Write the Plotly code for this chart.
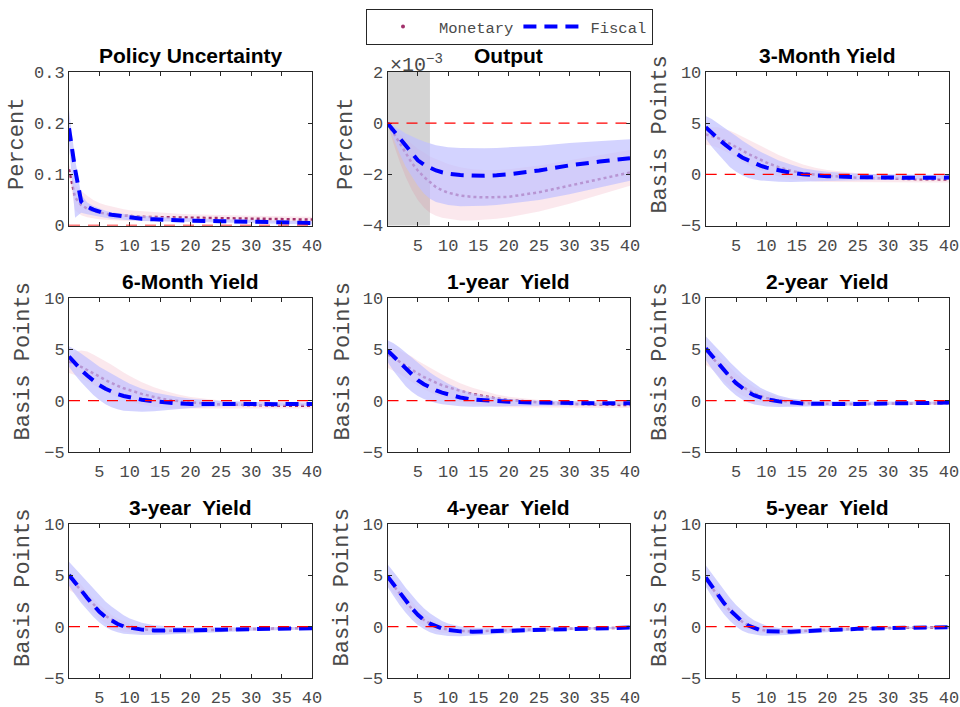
import plotly.graph_objects as go

# ---------------- data ----------------
horizons = [0, 1, 2, 3, 4, 5, 6, 7, 8, 9, 10, 12, 14, 16, 18, 20, 25, 30, 35, 40]

# Policy Uncertainty (percent)
pu_mon    = [0.11, 0.055, 0.04, 0.033, 0.028, 0.025, 0.023, 0.021, 0.02, 0.019, 0.018, 0.017, 0.0165, 0.016, 0.0157, 0.0153, 0.0145, 0.0135, 0.0125, 0.0115]
pu_mon_lo = [0.10, 0.03, 0.02, 0.016, 0.014, 0.012, 0.011, 0.01, 0.01, 0.0095, 0.009, 0.0085, 0.008, 0.008, 0.0075, 0.0075, 0.007, 0.0065, 0.006, 0.0055]
pu_mon_hi = [0.12, 0.08, 0.068, 0.058, 0.05, 0.044, 0.04, 0.037, 0.034, 0.032, 0.03, 0.028, 0.026, 0.024, 0.023, 0.022, 0.02, 0.019, 0.018, 0.017]
pu_fis    = [0.19, 0.11, 0.047, 0.037, 0.031, 0.026, 0.023, 0.021, 0.019, 0.017, 0.015, 0.013, 0.012, 0.011, 0.010, 0.0095, 0.0085, 0.007, 0.006, 0.005]
pu_fis_lo = [0.16, 0.015, 0.025, 0.022, 0.019, 0.017, 0.015, 0.013, 0.012, 0.011, 0.0105, 0.009, 0.008, 0.007, 0.0065, 0.006, 0.005, 0.004, 0.003, 0.002]
pu_fis_hi = [0.225, 0.13, 0.06, 0.045, 0.038, 0.033, 0.029, 0.026, 0.024, 0.022, 0.021, 0.019, 0.017, 0.016, 0.015, 0.014, 0.012, 0.011, 0.0095, 0.0085]

# Output (units of 1e-3 percent)
out_mon    = [0, -0.4, -0.8, -1.2, -1.55, -1.85, -2.1, -2.3, -2.5, -2.62, -2.72, -2.83, -2.88, -2.9, -2.9, -2.88, -2.7, -2.45, -2.2, -1.93]
out_mon_lo = [0, -0.8, -1.5, -2.1, -2.6, -3.0, -3.3, -3.5, -3.62, -3.7, -3.75, -3.8, -3.8, -3.78, -3.74, -3.68, -3.45, -3.15, -2.8, -2.45]
out_mon_hi = [0, -0.2, -0.4, -0.6, -0.8, -1.0, -1.15, -1.3, -1.4, -1.5, -1.6, -1.72, -1.8, -1.83, -1.83, -1.8, -1.65, -1.45, -1.25, -1.05]
out_fis    = [0, -0.3, -0.6, -0.9, -1.2, -1.45, -1.62, -1.75, -1.85, -1.92, -1.97, -2.03, -2.06, -2.06, -2.04, -2.0, -1.85, -1.65, -1.5, -1.37]
out_fis_lo = [0, -0.6, -1.2, -1.7, -2.1, -2.45, -2.75, -2.95, -3.08, -3.15, -3.2, -3.25, -3.25, -3.23, -3.2, -3.15, -3.0, -2.78, -2.52, -2.25]
out_fis_hi = [0, -0.12, -0.25, -0.4, -0.52, -0.62, -0.72, -0.8, -0.86, -0.9, -0.94, -0.97, -0.98, -0.98, -0.97, -0.95, -0.88, -0.78, -0.7, -0.63]
out_shade = [0, 7]

# 3-Month Yield (basis points)
m3_mon    = [3.9, 3.75, 3.55, 3.3, 3.0, 2.7, 2.35, 2.0, 1.7, 1.4, 1.15, 0.7, 0.35, 0.1, -0.05, -0.15, -0.33, -0.42, -0.48, -0.5]
m3_mon_lo = [2.9, 2.8, 2.6, 2.3, 2.0, 1.6, 1.2, 0.9, 0.6, 0.35, 0.15, -0.2, -0.45, -0.6, -0.7, -0.75, -0.8, -0.8, -0.8, -0.8]
m3_mon_hi = [4.3, 4.6, 4.6, 4.45, 4.25, 4.0, 3.7, 3.4, 3.1, 2.8, 2.5, 1.9, 1.4, 0.95, 0.65, 0.42, 0.1, -0.05, -0.1, -0.12]
m3_fis    = [4.6, 4.0, 3.5, 3.0, 2.5, 2.05, 1.65, 1.35, 1.1, 0.85, 0.65, 0.35, 0.15, 0.0, -0.1, -0.18, -0.28, -0.33, -0.34, -0.32]
m3_fis_lo = [3.5, 2.7, 2.0, 1.3, 0.7, 0.25, -0.1, -0.35, -0.5, -0.6, -0.68, -0.73, -0.74, -0.73, -0.7, -0.65, -0.57, -0.52, -0.5, -0.5]
m3_fis_hi = [5.7, 5.4, 5.0, 4.6, 4.2, 3.75, 3.3, 2.9, 2.55, 2.2, 1.9, 1.35, 0.95, 0.6, 0.4, 0.25, 0.05, -0.03, -0.05, -0.07]

# 6-Month Yield
m6_mon    = [3.8, 3.6, 3.3, 3.0, 2.7, 2.35, 2.0, 1.7, 1.45, 1.2, 1.0, 0.65, 0.35, 0.1, -0.05, -0.18, -0.38, -0.47, -0.5, -0.5]
m6_mon_lo = [2.7, 2.5, 2.2, 1.9, 1.55, 1.2, 0.85, 0.55, 0.3, 0.1, -0.1, -0.4, -0.6, -0.72, -0.78, -0.8, -0.8, -0.78, -0.78, -0.78]
m6_mon_hi = [4.1, 4.8, 4.9, 4.8, 4.5, 4.2, 3.85, 3.5, 3.1, 2.75, 2.4, 1.8, 1.3, 0.9, 0.6, 0.35, 0.0, -0.15, -0.2, -0.22]
m6_fis    = [4.3, 3.6, 3.0, 2.45, 1.95, 1.5, 1.15, 0.85, 0.62, 0.45, 0.3, 0.08, -0.08, -0.2, -0.28, -0.33, -0.36, -0.37, -0.35, -0.33]
m6_fis_lo = [3.3, 2.5, 1.8, 1.15, 0.55, 0.05, -0.35, -0.65, -0.85, -1.0, -1.08, -1.1, -1.05, -0.95, -0.85, -0.72, -0.55, -0.5, -0.5, -0.5]
m6_fis_hi = [5.3, 5.0, 4.6, 4.2, 3.75, 3.3, 2.95, 2.6, 2.25, 1.95, 1.65, 1.15, 0.8, 0.55, 0.35, 0.18, -0.05, -0.15, -0.18, -0.2]

# 1-year Yield
y1_mon    = [4.5, 4.2, 3.8, 3.4, 3.0, 2.65, 2.3, 2.0, 1.75, 1.5, 1.3, 0.95, 0.65, 0.4, 0.2, 0.05, -0.18, -0.33, -0.4, -0.44]
y1_mon_lo = [3.2, 2.9, 2.6, 2.2, 1.8, 1.45, 1.1, 0.8, 0.55, 0.35, 0.15, -0.15, -0.35, -0.5, -0.6, -0.65, -0.7, -0.72, -0.72, -0.72]
y1_mon_hi = [4.8, 5.1, 4.9, 4.6, 4.3, 3.9, 3.55, 3.2, 2.85, 2.55, 2.25, 1.7, 1.25, 0.9, 0.6, 0.38, 0.05, -0.1, -0.15, -0.17]
y1_fis    = [4.9, 4.3, 3.7, 3.1, 2.55, 2.0, 1.6, 1.25, 1.0, 0.78, 0.6, 0.3, 0.1, 0.0, -0.07, -0.12, -0.2, -0.26, -0.27, -0.27]
y1_fis_lo = [3.8, 2.9, 2.1, 1.4, 0.85, 0.45, 0.15, -0.08, -0.25, -0.35, -0.45, -0.55, -0.6, -0.6, -0.57, -0.53, -0.48, -0.47, -0.47, -0.47]
y1_fis_hi = [5.9, 5.6, 5.2, 4.7, 4.2, 3.7, 3.2, 2.75, 2.35, 2.0, 1.65, 1.1, 0.72, 0.48, 0.3, 0.15, -0.02, -0.08, -0.1, -0.1]

# 2-year Yield
y2_mon    = [4.9, 4.3, 3.6, 2.95, 2.35, 1.8, 1.35, 1.0, 0.7, 0.45, 0.25, 0.0, -0.15, -0.25, -0.3, -0.33, -0.34, -0.3, -0.27, -0.25]
y2_mon_lo = [3.5, 3.1, 2.5, 1.9, 1.35, 0.9, 0.5, 0.2, -0.05, -0.2, -0.32, -0.48, -0.55, -0.55, -0.53, -0.5, -0.47, -0.43, -0.4, -0.37]
y2_mon_hi = [5.4, 5.0, 4.4, 3.8, 3.2, 2.65, 2.15, 1.7, 1.3, 1.0, 0.75, 0.35, 0.1, -0.05, -0.12, -0.15, -0.18, -0.17, -0.15, -0.13]
y2_fis    = [5.1, 4.4, 3.6, 2.9, 2.3, 1.7, 1.2, 0.8, 0.5, 0.28, 0.12, -0.08, -0.2, -0.28, -0.32, -0.34, -0.33, -0.28, -0.23, -0.2]
y2_fis_lo = [4.0, 3.1, 2.3, 1.6, 1.0, 0.5, 0.1, -0.18, -0.38, -0.5, -0.57, -0.62, -0.62, -0.6, -0.56, -0.52, -0.45, -0.4, -0.37, -0.35]
y2_fis_hi = [6.3, 5.7, 5.0, 4.4, 3.75, 3.15, 2.6, 2.1, 1.65, 1.25, 0.95, 0.5, 0.2, 0.05, -0.02, -0.05, -0.08, -0.08, -0.08, -0.08]

# 3-year Yield
y3_mon    = [4.85, 4.2, 3.5, 2.8, 2.15, 1.55, 1.05, 0.65, 0.32, 0.08, -0.08, -0.28, -0.37, -0.4, -0.4, -0.37, -0.3, -0.23, -0.18, -0.15]
y3_mon_lo = [3.6, 3.2, 2.6, 1.95, 1.3, 0.75, 0.3, -0.05, -0.3, -0.5, -0.62, -0.72, -0.73, -0.7, -0.66, -0.6, -0.48, -0.38, -0.3, -0.26]
y3_mon_hi = [5.3, 4.8, 4.1, 3.4, 2.75, 2.15, 1.6, 1.15, 0.8, 0.5, 0.28, 0.0, -0.12, -0.18, -0.2, -0.2, -0.15, -0.1, -0.08, -0.07]
y3_fis    = [5.05, 4.35, 3.55, 2.8, 2.1, 1.45, 0.95, 0.55, 0.25, 0.02, -0.12, -0.3, -0.38, -0.4, -0.39, -0.36, -0.3, -0.23, -0.18, -0.16]
y3_fis_lo = [4.0, 3.1, 2.3, 1.6, 0.95, 0.4, -0.05, -0.35, -0.55, -0.7, -0.78, -0.83, -0.83, -0.8, -0.74, -0.68, -0.55, -0.42, -0.33, -0.28]
y3_fis_hi = [6.35, 5.7, 5.0, 4.3, 3.65, 3.05, 2.45, 1.95, 1.5, 1.1, 0.8, 0.38, 0.12, 0.0, -0.05, -0.07, -0.08, -0.07, -0.06, -0.05]

# 4-year Yield
y4_mon    = [4.8, 4.0, 3.2, 2.45, 1.75, 1.15, 0.65, 0.3, 0.02, -0.18, -0.3, -0.43, -0.47, -0.45, -0.41, -0.36, -0.27, -0.19, -0.14, -0.1]
y4_mon_lo = [4.0, 3.3, 2.55, 1.8, 1.1, 0.5, 0.05, -0.25, -0.45, -0.6, -0.65, -0.7, -0.68, -0.62, -0.56, -0.5, -0.38, -0.27, -0.2, -0.15]
y4_mon_hi = [5.3, 4.6, 3.85, 3.1, 2.4, 1.8, 1.25, 0.82, 0.48, 0.2, 0.02, -0.2, -0.28, -0.3, -0.28, -0.25, -0.18, -0.12, -0.08, -0.05]
y4_fis    = [4.9, 4.1, 3.3, 2.5, 1.8, 1.15, 0.65, 0.28, 0.0, -0.2, -0.33, -0.47, -0.5, -0.47, -0.42, -0.37, -0.28, -0.2, -0.14, -0.1]
y4_fis_lo = [3.9, 3.0, 2.1, 1.35, 0.7, 0.15, -0.25, -0.55, -0.75, -0.87, -0.93, -0.95, -0.9, -0.82, -0.73, -0.65, -0.48, -0.35, -0.26, -0.2]
y4_fis_hi = [6.1, 5.4, 4.6, 3.8, 3.05, 2.4, 1.8, 1.3, 0.9, 0.55, 0.3, 0.0, -0.12, -0.15, -0.15, -0.13, -0.1, -0.06, -0.04, -0.02]

# 5-year Yield
y5_mon    = [4.6, 3.8, 3.0, 2.25, 1.55, 0.95, 0.48, 0.1, -0.15, -0.32, -0.42, -0.49, -0.48, -0.43, -0.37, -0.31, -0.21, -0.14, -0.09, -0.06]
y5_mon_lo = [4.1, 3.25, 2.45, 1.7, 1.0, 0.4, 0.0, -0.3, -0.5, -0.62, -0.68, -0.7, -0.66, -0.58, -0.5, -0.42, -0.3, -0.2, -0.14, -0.1]
y5_mon_hi = [5.1, 4.35, 3.55, 2.8, 2.1, 1.5, 0.95, 0.55, 0.22, 0.0, -0.15, -0.28, -0.3, -0.28, -0.25, -0.21, -0.13, -0.08, -0.05, -0.03]
y5_fis    = [4.8, 3.95, 3.1, 2.3, 1.6, 1.0, 0.5, 0.1, -0.17, -0.35, -0.45, -0.52, -0.5, -0.45, -0.39, -0.33, -0.22, -0.15, -0.1, -0.07]
y5_fis_lo = [3.9, 2.9, 2.0, 1.2, 0.55, 0.0, -0.4, -0.65, -0.8, -0.88, -0.9, -0.88, -0.8, -0.7, -0.6, -0.52, -0.36, -0.25, -0.18, -0.13]
y5_fis_hi = [6.0, 5.2, 4.4, 3.55, 2.8, 2.1, 1.5, 1.0, 0.6, 0.3, 0.08, -0.15, -0.22, -0.22, -0.2, -0.17, -0.1, -0.06, -0.03, -0.01]

titles = ["Policy Uncertainty", "Output", "3-Month Yield", "6-Month Yield",
          "1-year\u00a0 Yield", "2-year\u00a0 Yield", "3-year\u00a0 Yield",
          "4-year\u00a0 Yield", "5-year\u00a0 Yield"]
ylabels = ["Percent", "Percent"] + ["Basis Points"] * 7
x_ticks = [5, 10, 15, 20, 25, 30, 35, 40]
pu_ticks = [0, 0.1, 0.2, 0.3]
pu_ticktext = ["0", "0.1", "0.2", "0.3"]
out_ticks = [-4, -2, 0, 2]
bp_ticks = [-5, 0, 5, 10]

series = [
    (pu_mon, pu_mon_lo, pu_mon_hi, pu_fis, pu_fis_lo, pu_fis_hi),
    (out_mon, out_mon_lo, out_mon_hi, out_fis, out_fis_lo, out_fis_hi),
    (m3_mon, m3_mon_lo, m3_mon_hi, m3_fis, m3_fis_lo, m3_fis_hi),
    (m6_mon, m6_mon_lo, m6_mon_hi, m6_fis, m6_fis_lo, m6_fis_hi),
    (y1_mon, y1_mon_lo, y1_mon_hi, y1_fis, y1_fis_lo, y1_fis_hi),
    (y2_mon, y2_mon_lo, y2_mon_hi, y2_fis, y2_fis_lo, y2_fis_hi),
    (y3_mon, y3_mon_lo, y3_mon_hi, y3_fis, y3_fis_lo, y3_fis_hi),
    (y4_mon, y4_mon_lo, y4_mon_hi, y4_fis, y4_fis_lo, y4_fis_hi),
    (y5_mon, y5_mon_lo, y5_mon_hi, y5_fis, y5_fis_lo, y5_fis_hi),
]

# ---------------- style / layout ----------------
W, H = 960, 707
col_px = [(69, 312), (387.5, 630), (705.7, 949)]
row_px = [(72, 225.5), (298.3, 451.7), (524.3, 677.7)]
ylab_x_px = [[17, 346, 659.6], [22.5, 342.5, 660], [23, 341.5, 660]]
ylab_y_px = [[144, 144, 135], [362, 362, 362], [588, 588, 588]]

MON_C = "#A2306B"
FIS_C = "#0000FF"
MON_BAND = "rgba(225,90,130,0.14)"
FIS_BAND = "rgba(192,192,255,0.70)"
AX_C = "#262626"
TXT_C = "#4a4a4a"
MONO = "Liberation Mono, Courier New, monospace"
SANS = "Liberation Sans, Arial, sans-serif"

fig = go.Figure()
band_x = horizons + horizons[::-1]

annotations = []
shapes = []
for i, (mon, mlo, mhi, fis, flo, fhi) in enumerate(series):
    r, c = divmod(i, 3)
    s = "" if i == 0 else str(i + 1)
    xa, ya = "x" + s, "y" + s
    fig.add_trace(go.Scatter(x=band_x, y=mhi + mlo[::-1], fill="toself", fillcolor=MON_BAND,
                             line=dict(width=0), mode="lines", hoverinfo="skip",
                             showlegend=False, xaxis=xa, yaxis=ya))
    fig.add_trace(go.Scatter(x=horizons, y=mon, mode="lines", name="Monetary",
                             line=dict(color=MON_C, width=2.5, dash="dot"),
                             showlegend=False, xaxis=xa, yaxis=ya))
    fig.add_trace(go.Scatter(x=band_x, y=fhi + flo[::-1], fill="toself", fillcolor=FIS_BAND,
                             line=dict(width=0), mode="lines", hoverinfo="skip",
                             showlegend=False, xaxis=xa, yaxis=ya))
    fig.add_trace(go.Scatter(x=horizons, y=fis, mode="lines", name="Fiscal",
                             line=dict(color=FIS_C, width=4, dash="13px,8px"),
                             showlegend=False, xaxis=xa, yaxis=ya))

    x0, x1 = col_px[c]
    yt, yb = row_px[r]
    dom_x = [x0 / W, x1 / W]
    dom_y = [1 - yb / H, 1 - yt / H]
    axis_common = dict(showline=True, linecolor=AX_C, linewidth=1, mirror="ticks",
                       ticks="inside", ticklen=4, tickcolor=AX_C, tickwidth=1,
                       showgrid=False, zeroline=False, automargin=False,
                       tickfont=dict(family=MONO, size=17, color=TXT_C))
    fig.layout["xaxis" + s] = dict(domain=dom_x, anchor=ya, range=[0, 40],
                                   tickmode="array", tickvals=x_ticks,
                                   ticklabelstandoff=4, **axis_common)
    if i == 0:
        yk = dict(range=[0, 0.3], tickvals=pu_ticks, ticktext=pu_ticktext)
    elif i == 1:
        yk = dict(range=[-4, 2], tickvals=out_ticks)
    else:
        yk = dict(range=[-5, 10], tickvals=bp_ticks)
    fig.layout["yaxis" + s] = dict(domain=dom_y, anchor=xa, tickmode="array",
                                   ticklabelstandoff=0, **yk, **axis_common)

    # zero line
    shapes.append(dict(type="line", xref=xa + " domain", x0=0, x1=1, yref=ya, y0=0, y1=0,
                       line=dict(color="#FF0000", width=1.3, dash="11px,8px"), layer="above"))
    # title
    annotations.append(dict(text="<b>" + titles[i] + "</b>", xref="paper", yref="paper",
                            x=(dom_x[0] + dom_x[1]) / 2, y=dom_y[1], xanchor="center",
                            yanchor="bottom", yshift=3, showarrow=False,
                            font=dict(family=SANS, size=21, color="#000000")))
    # y label
    annotations.append(dict(text=ylabels[i], xref="paper", yref="paper",
                            x=ylab_x_px[r][c] / W, y=1 - ylab_y_px[r][c] / H,
                            xanchor="center", yanchor="middle", textangle=-90,
                            showarrow=False, font=dict(family=MONO, size=22, color=TXT_C)))

# grey shaded window in the Output panel
shapes.append(dict(type="rect", xref="x2", x0=out_shade[0], x1=out_shade[1],
                   yref="y2 domain", y0=0, y1=1, fillcolor="rgb(212,212,212)",
                   line=dict(width=0), layer="below"))

# exponent label of the Output panel
annotations.append(dict(text="\u00d710<sup>\u22123</sup>", xref="paper", yref="paper",
                        x=col_px[1][0] / W, y=1 - row_px[0][0] / H, xanchor="left",
                        yanchor="bottom", yshift=-7, showarrow=False,
                        font=dict(family=MONO, size=20, color=TXT_C)))

# legend entries
fig.add_trace(go.Scatter(x=[None], y=[None], mode="markers", name="Monetary",
                         marker=dict(color=MON_C, size=4), xaxis="x2", yaxis="y2"))
fig.add_trace(go.Scatter(x=[None], y=[None], mode="lines", name="Fiscal",
                         line=dict(color=FIS_C, width=4, dash="13px,8px"),
                         xaxis="x2", yaxis="y2"))

fig.update_layout(
    width=W, height=H, margin=dict(l=0, r=0, t=0, b=0, pad=0, autoexpand=False),
    paper_bgcolor="white", plot_bgcolor="white",
    shapes=shapes, annotations=annotations,
    showlegend=True,
    legend=dict(orientation="h", x=366 / W, y=1 - 9 / H, xanchor="left", yanchor="top",
                bordercolor=AX_C, borderwidth=1, bgcolor="white",
                font=dict(family=MONO, size=15.5, color=TXT_C),
                itemwidth=62, tracegroupgap=0),
)

fig.write_html("out.html")
